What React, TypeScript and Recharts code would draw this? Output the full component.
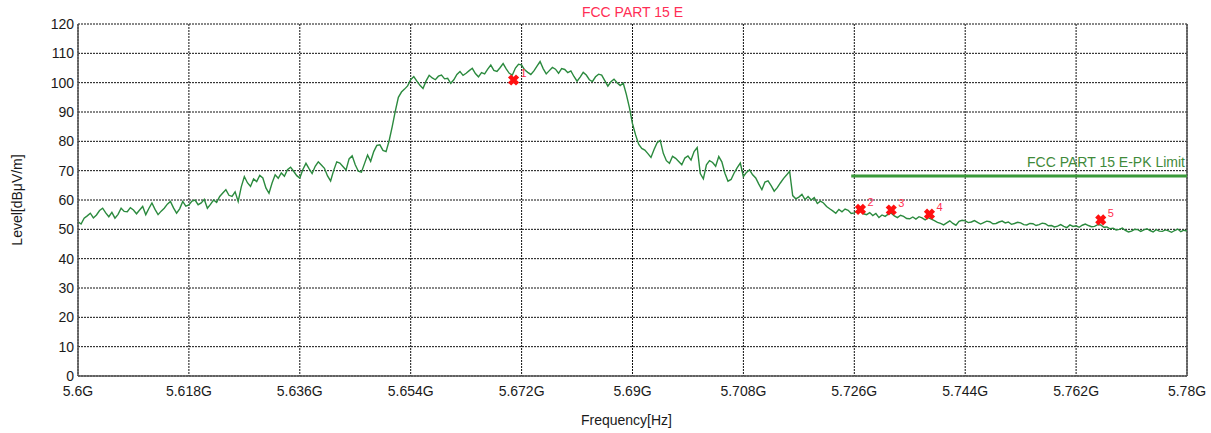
import React from "react";
import {
  ComposedChart,
  Line,
  Scatter,
  XAxis,
  YAxis,
  CartesianGrid,
  ReferenceLine,
  Label,
} from "recharts";

// sweep: 5.6 GHz .. 5.78 GHz, one reading every 0.5 MHz
const START_GHZ = 5.6;
const STEP_GHZ = 0.0005;

// level [dBuV/m], one row = 5 MHz
const levels = [
  52.6, 51.8, 53.8, 54.6, 55.5, 53.9, 54.9, 56.4, 57.2, 55.6,
  54.3, 55.8, 53.8, 55.1, 57.2, 56.1, 56.0, 57.4, 56.6, 55.3,
  56.6, 57.8, 55.0, 57.1, 59.0, 56.8, 55.0, 56.2, 57.2, 58.6,
  59.5, 57.3, 55.5, 57.0, 59.5, 57.9, 58.3, 59.6, 60.0, 58.4,
  59.0, 60.2, 57.2, 58.5, 60.0, 59.2, 61.2, 62.4, 63.5, 61.6,
  61.2, 62.8, 59.5, 64.5, 68.0, 65.9, 64.6, 67.2, 66.3, 68.4,
  67.5, 64.1, 62.3, 65.8, 68.6, 67.4, 69.2, 68.1, 70.3, 71.2,
  69.8, 68.3, 67.5, 70.4, 72.5, 70.7, 69.0, 71.5, 73.0, 71.9,
  70.8, 68.2, 66.5, 70.1, 73.0, 72.6, 71.4, 70.2, 74.0, 75.1,
  72.0, 69.8, 69.5, 72.4, 75.3, 73.2, 76.5, 78.6, 78.8, 76.9,
  76.5, 80.2, 85.0, 90.3, 95.0, 96.8, 97.8, 98.9, 101.0, 102.1,
  100.5, 99.1, 98.0, 100.6, 102.5, 101.6, 101.0, 102.2, 102.6, 101.3,
  101.5, 99.8, 101.0, 102.8, 103.8, 102.5, 103.2, 104.1, 104.9, 103.1,
  102.0, 103.4, 103.0, 104.6, 106.0, 104.2, 103.8, 105.1, 106.5, 104.7,
  103.2, 102.6, 105.0, 106.3, 106.0, 104.4, 103.5, 102.8, 104.0, 105.6,
  107.2, 104.8, 103.0, 104.1, 105.2, 104.6, 103.2, 104.8, 104.5, 103.4,
  104.0, 102.1, 100.5, 101.9, 103.5, 102.6, 101.0, 100.4, 102.0, 102.9,
  102.6, 100.7, 98.8, 100.3, 101.2, 100.0, 99.0, 99.8, 96.0, 91.5,
  86.0, 82.2, 79.0, 77.6, 77.0, 75.8, 74.5, 77.2, 79.5, 80.3,
  75.9, 73.4, 72.5, 74.9, 74.2, 73.1, 72.0, 74.3, 75.0, 73.6,
  76.5, 77.9, 69.0, 67.2, 72.0, 73.4, 72.8, 71.5, 74.8, 73.0,
  69.1, 66.4, 67.0, 69.2, 71.0, 72.6, 68.0, 69.4, 70.3, 68.6,
  67.5, 65.4, 63.5, 66.1, 66.5, 64.9, 63.0, 64.2, 65.8, 67.3,
  68.5, 69.8, 61.5, 60.4, 61.0, 61.9, 60.1, 61.2, 60.0, 60.8,
  58.8, 59.6, 59.0, 57.8, 57.0, 56.3, 55.5, 56.8, 56.0, 56.9,
  56.5, 55.4, 55.6, 56.5, 56.2, 55.3, 55.0, 55.7, 54.7, 55.4,
  54.0, 54.9, 54.4, 55.2, 55.5, 54.6, 54.0, 54.8, 54.4, 53.7,
  53.6, 54.2, 53.5, 54.3, 53.9, 53.2, 54.0, 53.5, 53.0, 52.4,
  52.0, 51.5, 52.2, 52.9, 52.0, 51.4, 52.7, 53.1, 52.9, 52.3,
  52.5, 53.0, 52.4, 51.8, 52.3, 52.8, 52.6, 51.9, 52.0, 52.5,
  52.8, 52.2, 52.5, 51.7, 52.0, 52.4, 52.2, 51.6, 51.5, 52.0,
  51.9, 51.3, 51.6, 52.1, 51.9, 51.2, 51.3, 50.8, 51.1, 51.6,
  51.0, 50.6, 51.5, 51.0, 51.2, 50.7, 51.4, 51.8, 51.3, 50.9,
  51.0, 51.6, 51.5, 50.7, 50.8, 50.2, 50.4, 49.8, 50.0, 50.4,
  49.6, 49.1, 49.4, 50.0, 49.9, 49.3, 49.8, 50.2, 49.6, 49.1,
  49.9, 49.4, 49.3, 49.8, 49.5, 49.0, 49.6, 50.1, 49.2, 49.7,
  49.4,
];

const markerNums = [1, 2, 3, 4, 5];
const markerFreqs = [5.6707, 5.727, 5.732, 5.7382, 5.766];
const markerLevels = [100.9, 56.8, 56.6, 55.2, 53.2];

const limitFrom = 5.7255;
const limitTo = 5.78;
const limitLevel = 68.2;

const xTicks = [5.6, 5.618, 5.636, 5.654, 5.672, 5.69, 5.708, 5.726, 5.744, 5.762, 5.78];
const yTicks = [0, 10, 20, 30, 40, 50, 60, 70, 80, 90, 100, 110, 120];

const trace = levels.map((v, i) => ({ f: START_GHZ + i * STEP_GHZ, v }));
const markers = markerNums.map((n, i) => ({ n, f: markerFreqs[i], v: markerLevels[i] }));

const FONT = '"Liberation Sans", Arial, sans-serif';
const tickStyle = { fontSize: 14, fill: "#1a1a1a", fontFamily: FONT };

function MarkerShape(props: any) {
  const { cx, cy, payload } = props;
  return (
    <g>
      <path
        d={`M${cx - 4},${cy - 4}L${cx + 4},${cy + 4}M${cx + 4},${cy - 4}L${cx - 4},${cy + 4}`}
        stroke="#ff1010"
        strokeWidth={4.5}
      />
      <text x={cx + 7} y={cy - 3} fontSize={11} fill="#ff3050" fontFamily={FONT}>
        {payload.n}
      </text>
    </g>
  );
}

export default function App() {
  return (
    <div style={{ position: "absolute", left: 0, top: 0, width: 1211, height: 433, background: "#fff" }}>
      <div
        style={{
          position: "absolute",
          left: 78,
          width: 1109,
          top: 4,
          textAlign: "center",
          color: "#ff2d55",
          fontSize: 14,
          fontFamily: FONT,
        }}
      >
        FCC PART 15 E
      </div>
      <ComposedChart width={1211} height={433} margin={{ top: 24, right: 24, left: 0, bottom: 0 }}>
        <CartesianGrid stroke="#111" strokeDasharray="2 1" />
        <XAxis
          type="number"
          dataKey="f"
          domain={[5.6, 5.78]}
          ticks={xTicks}
          interval={0}
          tickFormatter={(v) => `${v}G`}
          tick={tickStyle}
          tickLine={false}
          tickSize={0}
          tickMargin={10}
          height={57}
          stroke="#555"
          strokeWidth={1.5}
        >
          <Label
            content={(p: any) => {
              const vb = p.viewBox;
              return (
                <text
                  x={vb.x + vb.width / 2 - 6}
                  y={vb.y + 49}
                  textAnchor="middle"
                  fontSize={14}
                  fill="#1a1a1a"
                  fontFamily={FONT}
                >
                  Frequency[Hz]
                </text>
              );
            }}
          />
        </XAxis>
        <YAxis
          type="number"
          dataKey="v"
          domain={[0, 120]}
          ticks={yTicks}
          interval={0}
          tick={tickStyle}
          tickLine={false}
          tickSize={0}
          tickMargin={4}
          width={78}
          stroke="#555"
          strokeWidth={1.5}
        >
          <Label
            content={(p: any) => {
              const vb = p.viewBox;
              const cx = 17;
              const cy = vb.y + vb.height / 2;
              return (
                <text
                  x={cx}
                  y={cy}
                  transform={`rotate(-90 ${cx} ${cy})`}
                  textAnchor="middle"
                  dominantBaseline="central"
                  fontSize={14}
                  fill="#1a1a1a"
                  fontFamily={FONT}
                >
                  Level[dBμV/m]
                </text>
              );
            }}
          />
        </YAxis>
        <ReferenceLine x={5.78} stroke="#555" strokeWidth={1.5} />
        <ReferenceLine
          segment={[
            { x: limitFrom, y: limitLevel },
            { x: limitTo, y: limitLevel },
          ]}
          stroke="#3a9a3a"
          strokeWidth={3}
          label={(p: any) => {
            const vb = p.viewBox;
            return (
              <text
                x={vb.x + vb.width - 2}
                y={vb.y - 9}
                textAnchor="end"
                fontSize={14}
                fill="#3f8a3a"
                fontFamily={FONT}
              >
                FCC PART 15 E-PK Limit
              </text>
            );
          }}
        />
        <Line
          data={trace}
          dataKey="v"
          type="linear"
          stroke="#2b8a3e"
          strokeWidth={1.4}
          dot={false}
          activeDot={false}
          isAnimationActive={false}
        />
        <Scatter data={markers} dataKey="v" shape={<MarkerShape />} isAnimationActive={false} />
      </ComposedChart>
    </div>
  );
}
